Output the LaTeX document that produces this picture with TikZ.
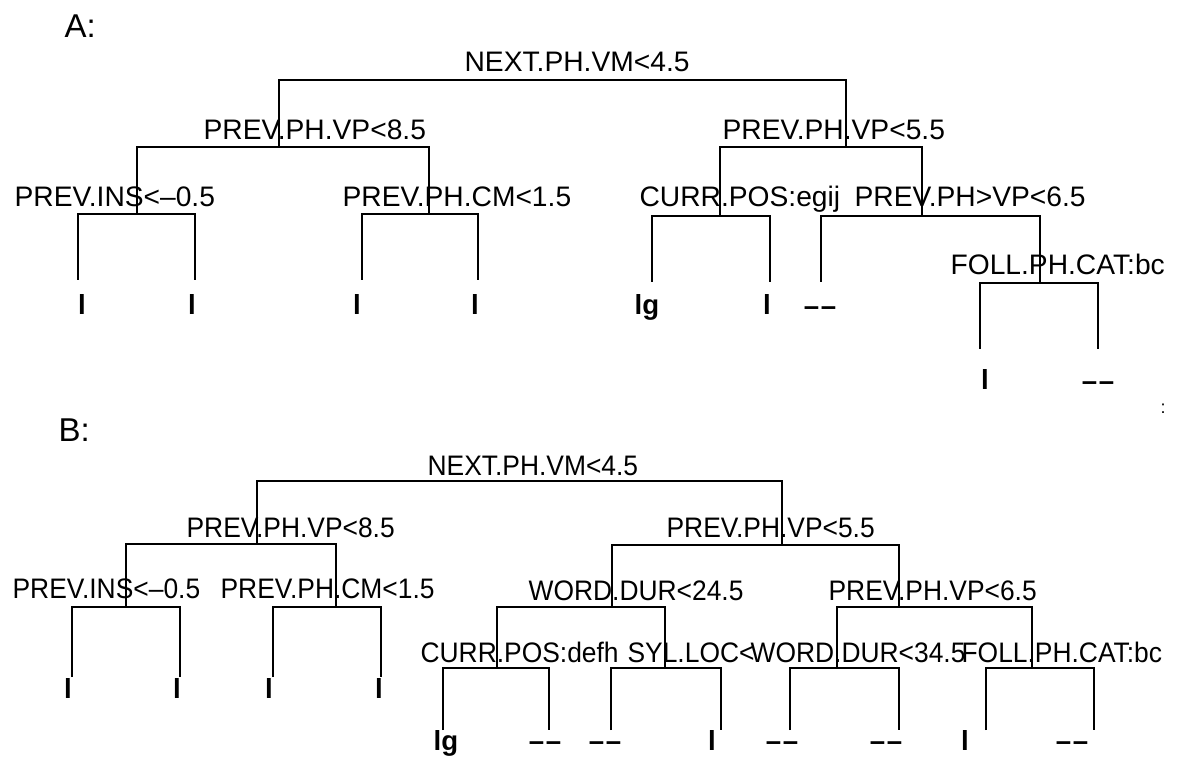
\documentclass[tikz,border=0pt]{standalone}
\usepackage{fontspec}
\setmainfont{Liberation Sans}
\newfontfamily\narrowfont[FakeStretch=0.936]{Liberation Sans}
\newcommand\leafdash{\textendash\kern0.8pt\textendash}

\begin{document}
\begin{tikzpicture}[x=0.5pt, y=-0.5pt, line width=0.6pt,
  split/.style={inner sep=0pt, anchor=base west, font=\fontsize{14.1}{17}\selectfont},
  splitB/.style={split, font=\narrowfont\fontsize{14.1}{17}\selectfont},
  leaf/.style={inner sep=0pt, anchor=base, font=\fontsize{13.8}{16}\selectfont\bfseries},
  panel/.style={inner sep=0pt, anchor=base west, font=\fontsize{16.5}{20}\selectfont}]
  \useasboundingbox (0,0) rectangle (1179,759);

  % tree A
  \node[panel] (titleA) at (64,38) {A:};
  \coordinate (A) at (562,80);
  \coordinate (A1) at (279,147);
  \coordinate (A2) at (846,147);
  \coordinate (A11) at (137,214);
  \coordinate (A12) at (429,214);
  \coordinate (A21) at (720,216);
  \coordinate (A22) at (922,216);
  \coordinate (A111) at (78,280);
  \coordinate (A112) at (195,280);
  \coordinate (A121) at (362,280);
  \coordinate (A122) at (478,280);
  \coordinate (A211) at (652,282);
  \coordinate (A212) at (770,282);
  \coordinate (A221) at (821,282);
  \coordinate (A222) at (1040,283);
  \coordinate (A2221) at (980,349);
  \coordinate (A2222) at (1098,349);

  \draw (A1) |- (A) -| (A2);
  \draw (A11) |- (A1) -| (A12);
  \draw (A21) |- (A2) -| (A22);
  \draw (A111) |- (A11) -| (A112);
  \draw (A121) |- (A12) -| (A122);
  \draw (A211) |- (A21) -| (A212);
  \draw (A221) |- (A22) -| (A222);
  \draw (A2221) |- (A222) -| (A2222);

  \node[split] (sA) at (464,72) {NEXT.PH.VM<4.5};
  \node[split] (sA1) at (203,140) {PREV.PH.VP<8.5};
  \node[split] (sA2) at (722,140) {PREV.PH.VP<5.5};
  \node[split] (sA11) at (14,207) {PREV.INS<\textendash0.5};
  \node[split] (sA12) at (342,207) {PREV.PH.CM<1.5};
  \node[split] (sA21) at (639,207) {CURR.POS:egij};
  \node[split] (sA22) at (854,207) {PREV.PH>VP<6.5};
  \node[split] (sA222) at (950,275) {FOLL.PH.CAT:bc};

  \node[leaf] (lA111) at (82,315) {l};
  \node[leaf] (lA112) at (192,315) {l};
  \node[leaf] (lA121) at (357,315) {l};
  \node[leaf] (lA122) at (475,315) {l};
  \node[leaf] (lA211) at (647,315) {lg};
  \node[leaf] (lA212) at (767,315) {l};
  \node[leaf] (lA221) at (820,316) {\leafdash};
  \node[leaf] (lA2221) at (985,390) {l};
  \node[leaf] (lA2222) at (1098,391) {\leafdash};

  \node[inner sep=0pt, font=\fontsize{9}{10}\selectfont] (speck) at (1163,409) {:};

  % tree B
  \node[panel] (titleB) at (58,442) {B:};
  \coordinate (B) at (520,481);
  \coordinate (B1) at (257,544);
  \coordinate (B2) at (782,545);
  \coordinate (B11) at (126,607);
  \coordinate (B12) at (336,607);
  \coordinate (B21) at (612,607);
  \coordinate (B22) at (899,607);
  \coordinate (B111) at (72,677);
  \coordinate (B112) at (180,677);
  \coordinate (B121) at (273,677);
  \coordinate (B122) at (381,677);
  \coordinate (B211) at (497,668);
  \coordinate (B212) at (665,668);
  \coordinate (B221) at (837,668);
  \coordinate (B222) at (1032,668);
  \coordinate (B2111) at (443,730);
  \coordinate (B2112) at (549,730);
  \coordinate (B2121) at (611,730);
  \coordinate (B2122) at (721,730);
  \coordinate (B2211) at (790,730);
  \coordinate (B2212) at (899,730);
  \coordinate (B2221) at (986,730);
  \coordinate (B2222) at (1094,730);

  \draw (B1) |- (B) -| (B2);
  \draw (B11) |- (B1) -| (B12);
  \draw (B21) |- (B2) -| (B22);
  \draw (B111) |- (B11) -| (B112);
  \draw (B121) |- (B12) -| (B122);
  \draw (B211) |- (B21) -| (B212);
  \draw (B221) |- (B22) -| (B222);
  \draw (B2111) |- (B211) -| (B2112);
  \draw (B2121) |- (B212) -| (B2122);
  \draw (B2211) |- (B221) -| (B2212);
  \draw (B2221) |- (B222) -| (B2222);

  \node[splitB] (sB) at (427,475) {NEXT.PH.VM<4.5};
  \node[splitB] (sB1) at (186,537) {PREV.PH.VP<8.5};
  \node[splitB] (sB2) at (666,537) {PREV.PH.VP<5.5};
  \node[splitB] (sB11) at (12,598) {PREV.INS<\textendash0.5};
  \node[splitB] (sB12) at (220,598) {PREV.PH.CM<1.5};
  \node[splitB] (sB21) at (528,600) {WORD.DUR<24.5};
  \node[splitB] (sB22) at (828,600) {PREV.PH.VP<6.5};
  \node[splitB] (sB211) at (420,662) {CURR.POS:defh};
  \node[splitB] (sB212) at (627,662) {SYL.LOC<};
  \node[splitB] (sB221) at (750,662) {WORD.DUR<34.5};
  \node[splitB] (sB222) at (961,662) {FOLL.PH.CAT:bc};

  \node[leaf] (lB111) at (68,698) {l};
  \node[leaf] (lB112) at (177,698) {l};
  \node[leaf] (lB121) at (269,698) {l};
  \node[leaf] (lB122) at (379,698) {l};
  \node[leaf] (lB2111) at (446,750) {lg};
  \node[leaf] (lB2112) at (545,750) {\leafdash};
  \node[leaf] (lB2121) at (605,750) {\leafdash};
  \node[leaf] (lB2122) at (712,750) {l};
  \node[leaf] (lB2211) at (782,750) {\leafdash};
  \node[leaf] (lB2212) at (886,750) {\leafdash};
  \node[leaf] (lB2221) at (965,750) {l};
  \node[leaf] (lB2222) at (1072,750) {\leafdash};
\end{tikzpicture}
\end{document}
